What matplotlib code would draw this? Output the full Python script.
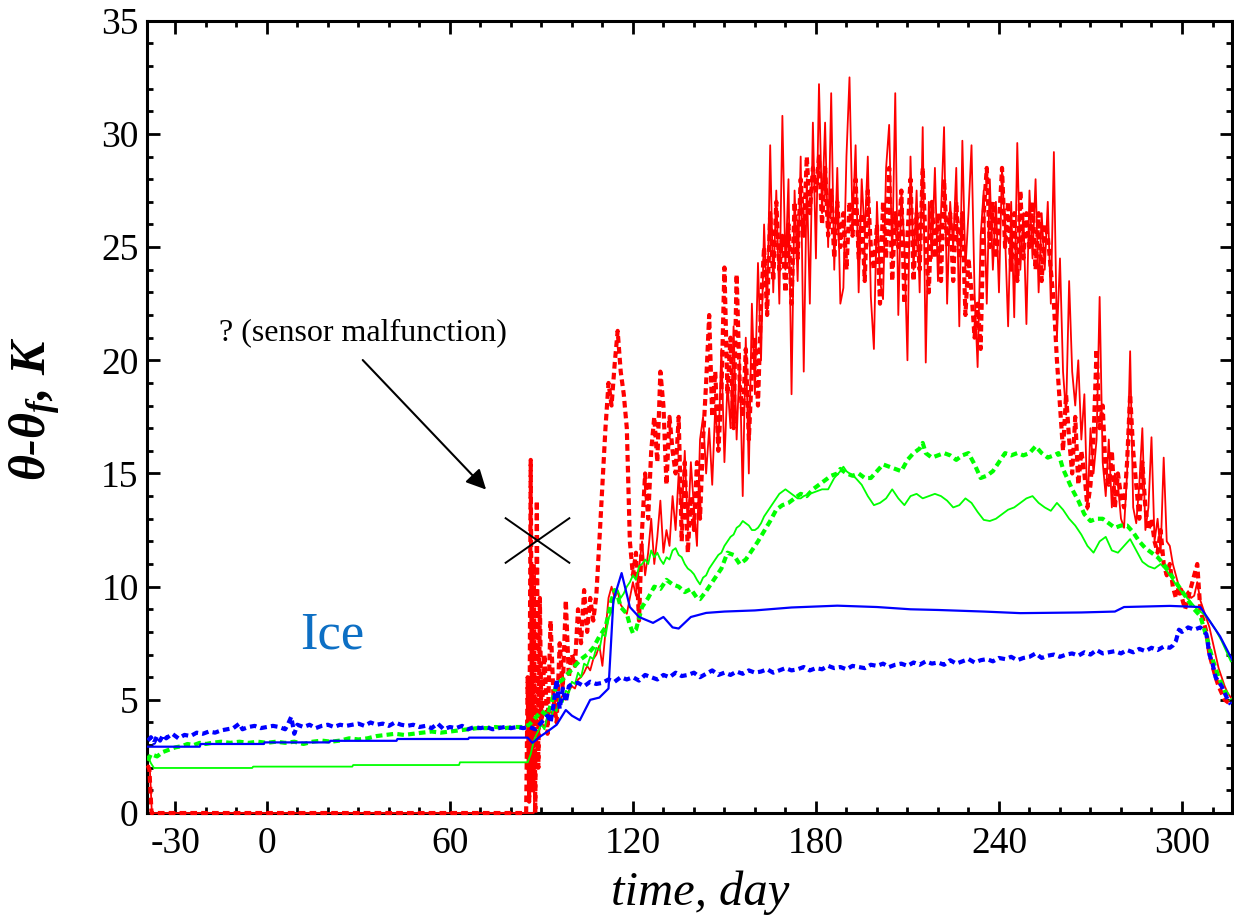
import numpy as np
import matplotlib
matplotlib.use('Agg')
import matplotlib.pyplot as plt
from matplotlib.path import Path
from matplotlib.ticker import MultipleLocator, FixedLocator

plt.rcParams['font.family'] = ['Liberation Serif', 'DejaVu Serif']
plt.rcParams['axes.unicode_minus'] = False
plt.rcParams['mathtext.fontset'] = 'custom'
plt.rcParams['mathtext.rm'] = 'Liberation Serif:bold:italic'
plt.rcParams['mathtext.it'] = 'Liberation Serif:bold:italic'
plt.rcParams['mathtext.bf'] = 'Liberation Serif:bold:italic'

# ---- data (time in days, theta - theta_f in K) ----
# red solid: short lead-in, then daily values from day 88
red_solid_lead = [(-39, 2.1), (-38.3, 1.8), (-37.7, 0.0), (87.5, 0.0)]
red_solid_start = 88
red_solid = [
    2.5, 3.5,
    4.0, 3.8, 4.2, 4.5, 4.3, 4.8, 5.0, 5.2, 5.0, 5.4,            # 90
    5.6, 5.5, 5.9, 6.0, 6.2, 6.5, 6.3, 6.8, 7.0, 7.4,            # 100
    6.5, 8.0, 9.5, 10.0, 9.5, 9.8, 9.2, 9.0, 8.8, 9.5,           # 110
    10.2, 9.6, 10.8, 12.0, 10.5, 11.5, 13.0, 11.0, 12.2, 13.8,   # 120
    11.5, 12.5, 11.8, 14.0, 12.5, 15.0, 13.0, 16.0, 12.5, 15.5,  # 130
    13.5, 11.8, 16.5, 17.5, 15.0, 17.0, 14.5, 18.0, 16.0, 20.5,  # 140
    15.5, 19.0, 17.0, 21.5, 16.5, 20.0, 14.0, 21.0, 15.0, 22.5,  # 150
    18.5, 24.3, 20.0, 26.0, 22.0, 29.5, 23.0, 27.5, 22.5, 30.8,  # 160
    24.0, 28.0, 18.5, 27.5, 23.5, 29.0, 19.5, 28.0, 22.5, 30.5,  # 170
    24.5, 32.2, 26.5, 30.5, 25.0, 31.8, 24.0, 28.5, 22.5, 23.2,  # 180
    29.0, 32.5, 26.0, 29.5, 23.0, 28.0, 25.5, 29.0, 22.8, 20.5,  # 190
    27.0, 23.5, 22.7, 28.5, 30.4, 24.5, 31.8, 22.0, 27.5, 25.0,  # 200
    20.0, 29.0, 24.0, 27.5, 23.0, 30.3, 19.9, 27.0, 24.5, 28.5,  # 210
    23.5, 26.5, 30.3, 22.5, 27.0, 25.0, 28.5, 21.5, 29.7, 24.0,  # 220
    26.5, 29.5, 23.0, 19.7, 25.5, 27.5, 22.5, 28.0, 24.0, 27.0,  # 230
    23.0, 28.5, 25.5, 21.5, 27.0, 21.9, 29.6, 24.0, 26.5, 21.6,  # 240
    27.5, 24.5, 28.0, 23.0, 26.5, 24.0, 27.0, 22.5, 29.2, 21.0,  # 250
    24.5, 19.5, 17.6, 23.5, 19.5, 18.0, 20.0, 16.5, 18.5, 13.4,  # 260
    17.0, 15.0, 16.5, 22.8, 15.5, 14.0, 16.5, 13.5, 15.0, 14.5,  # 270
    13.0, 12.6, 15.0, 20.4, 13.5, 12.8, 14.5, 17.0, 12.5, 13.5,  # 280
    16.6, 12.0, 13.0, 11.5, 15.7, 12.0, 11.8, 11.0, 10.5, 10.0,  # 290
    9.9, 9.6, 9.8, 9.5, 9.6, 10.2, 9.4, 9.0, 8.6, 8.2,           # 300
    7.6, 7.0, 6.4, 6.0, 5.6, 5.3, 5.1,                           # 310
]

# red dotted: lead-in incl. the malfunction spike, then daily values from day 90
red_dotted_lead = [(-39, 2.1), (-38.5, 1.9), (-37.8, 0.0), (85, 0.0), (85.5, 6.0),
                   (86, 0.5), (86.5, 15.6), (87, 1.0), (87.5, 11.0), (88, 0.0),
                   (88.5, 13.8), (89, 2.0), (89.5, 9.5)]
red_dotted_start = 90
red_dotted = [
    4.0, 7.0, 3.5, 8.5, 5.0, 4.0, 7.5, 5.5, 9.4, 6.0,            # 90
    7.0, 6.5, 9.0, 7.5, 9.85, 8.0, 9.5, 8.5, 9.6, 12.0,          # 100
    14.5, 17.0, 19.0, 18.0, 19.8, 21.3, 19.5, 18.5, 17.0, 12.0,  # 110
    10.5, 11.5, 8.5, 12.5, 15.0, 13.0, 16.0, 17.5, 15.5, 19.5,   # 120
    18.0, 14.5, 17.5, 16.0, 15.0, 17.5, 12.0, 15.5, 11.5, 14.0,  # 130
    12.5, 15.5, 13.0, 16.5, 19.0, 22.0, 17.5, 19.5, 16.0, 18.5,  # 140
    24.1, 18.5, 21.0, 17.0, 23.8, 19.0, 17.5, 20.5, 16.5, 19.5,  # 150
    21.0, 18.0, 22.5, 25.0, 22.0, 26.5, 23.5, 27.0, 24.0, 25.5,  # 160
    23.0, 26.0, 22.5, 27.0, 24.5, 28.0, 25.5, 29.0, 26.5, 28.5,  # 170
    27.5, 29.0, 26.0, 28.5, 25.5, 27.5, 24.5, 27.0, 25.0, 26.5,  # 180
    24.0, 27.0, 25.5, 28.0, 24.5, 26.5, 23.5, 27.5, 25.0, 24.0,  # 190
    26.0, 22.5, 27.0, 24.5, 28.5, 23.5, 26.5, 25.0, 27.5, 22.5,  # 200
    25.5, 28.0, 23.5, 26.5, 24.0, 28.5, 25.0, 23.0, 27.0, 24.5,  # 210
    26.5, 23.5, 28.0, 25.0, 26.5, 23.5, 27.0, 24.5, 26.5, 22.0,  # 220
    24.5, 23.0, 21.0, 22.5, 20.5, 26.5, 28.5, 25.0, 27.0, 24.5,  # 230
    26.0, 28.5, 25.0, 27.0, 24.0, 26.5, 23.5, 27.5, 24.5, 26.5,  # 240
    25.0, 27.0, 24.0, 26.5, 23.5, 26.0, 25.5, 24.0, 22.5, 20.0,  # 250
    18.0, 16.0, 18.5, 16.5, 15.0, 17.5, 14.5, 16.0, 15.0, 13.5,  # 260
    14.5, 16.5, 20.5, 17.0, 18.0, 15.0, 14.5, 16.0, 13.5, 15.0,  # 270
    14.0, 13.5, 15.5, 18.5, 16.0, 14.5, 13.0, 15.5, 13.5, 12.5,  # 280
    13.0, 12.0, 11.5, 12.5, 11.0, 10.5, 11.0, 10.0, 9.5, 10.0,   # 290
    9.5, 9.0, 9.5, 10.0, 10.5, 11.0, 9.0, 8.5, 8.0, 7.0,         # 300
    6.5, 6.0, 5.6, 5.3, 5.0, 4.9, 4.8,                           # 310
]

green_thin = [
    (-39, 2.5), (-38, 2.2), (-37, 1.99), (-4.8, 1.99), (-4.5, 2.05), (28, 2.05),
    (28.3, 2.12), (63, 2.12), (63.3, 2.24), (85.5, 2.24), (86.5, 2.6), (87.5, 3.2),
    (88.5, 3.5), (90, 3.9), (91, 3.7), (92, 4.3), (93, 4.1), (94, 4.6), (95, 4.5),
    (96, 5.1), (97, 4.9), (98, 5.4), (99, 5.3), (100, 5.8), (101, 5.7), (102, 6.2),
    (103, 6.0), (104, 6.6), (105, 6.5), (106, 6.9), (107, 6.8), (108, 7.3), (109, 7.2),
    (110, 7.9), (111, 7.8), (112, 8.6), (113, 8.9), (114, 9.5), (115, 9.85), (116, 9.5),
    (117, 9.7), (118, 10.0), (119, 10.2), (120, 10.5), (121, 10.3), (122, 10.9),
    (123, 11.0), (124, 11.2), (125, 11.0), (126, 11.6), (127, 11.3), (128, 11.5),
    (129, 11.2), (130, 11.0), (131, 11.3), (132, 11.2), (133, 11.6), (134, 11.7),
    (135, 11.4), (136, 11.3), (137, 11.0), (138, 10.8), (139, 10.7), (140, 10.55),
    (141, 10.3), (142, 10.1), (143, 10.4), (144, 10.5), (145, 10.8), (146, 11.0),
    (147, 11.2), (148, 11.4), (149, 11.5), (150, 11.8), (151, 12.0), (152, 12.2),
    (153, 12.3), (154, 12.6), (155, 12.7), (156, 12.9), (157, 12.8), (158, 12.7),
    (159, 12.5), (160, 12.5), (161, 12.6), (162, 12.8), (163, 13.1), (164, 13.3),
    (165, 13.5), (166, 13.7), (167, 13.9), (168, 14.1), (169, 14.2), (170, 14.3),
    (171, 14.2), (172, 14.1), (173, 14.0), (174, 13.9), (175, 13.9), (176, 14.0),
    (178, 14.1), (180, 14.2), (182, 14.3), (184, 14.3), (186, 14.8), (188, 15.1),
    (189, 15.3), (190, 15.1), (191, 15.0), (193, 14.8), (195, 14.5), (197, 14.0),
    (199, 13.6), (201, 13.7), (203, 13.9), (205, 14.3), (207, 13.9), (209, 13.6),
    (211, 14.0), (213, 14.1), (215, 13.9), (217, 14.0), (219, 14.1), (221, 14.0),
    (223, 13.8), (225, 13.5), (227, 13.6), (229, 13.9), (231, 13.7), (233, 13.3),
    (235, 12.95), (237, 12.9), (239, 13.0), (241, 13.2), (243, 13.4), (245, 13.5),
    (247, 13.7), (249, 13.9), (251, 14.0), (253, 13.7), (255, 13.5), (257, 13.35),
    (259, 13.7), (261, 13.4), (263, 13.0), (265, 12.7), (267, 12.3), (269, 11.8),
    (271, 11.5), (273, 12.0), (275, 12.2), (277, 11.6), (279, 11.5), (281, 11.8),
    (283, 12.1), (285, 11.6), (287, 11.1), (289, 10.9), (291, 10.8), (293, 11.0),
    (295, 10.7), (297, 10.3), (299, 9.9), (301, 9.6), (303, 9.3), (305, 9.0),
    (307, 8.8), (309, 8.5), (311, 8.1), (313, 7.6), (315, 7.0), (316, 6.7),
]

green_dotted = [
    (-39, 2.3), (-38, 2.6), (-36, 2.5), (-34, 2.7), (-32, 2.8), (-30, 2.9), (-28, 2.95),
    (-26, 3.05), (-24, 3.0), (-22, 3.1), (-20, 3.05), (-18, 3.1), (-15, 3.15), (-12, 3.1),
    (-9, 3.15), (-6, 3.1), (-3, 3.15), (0, 3.1), (3, 3.15), (6, 3.1), (9, 3.15), (12, 3.05),
    (15, 3.15), (18, 3.2), (21, 3.15), (24, 3.2), (27, 3.3), (30, 3.25), (33, 3.3),
    (36, 3.4), (39, 3.45), (42, 3.5), (45, 3.45), (48, 3.5), (51, 3.55), (54, 3.6),
    (57, 3.55), (60, 3.6), (63, 3.65), (66, 3.7), (69, 3.75), (72, 3.75), (75, 3.8),
    (78, 3.75), (81, 3.8), (84, 3.8), (86, 3.9), (88, 4.2), (90, 4.5), (92, 4.3),
    (94, 5.2), (95, 5.7), (97, 5.9), (99, 6.2), (101, 6.5), (103, 6.8), (105, 7.0),
    (107, 7.3), (109, 7.8), (111, 8.2), (112, 8.8), (113, 9.4), (114, 9.85), (115, 9.6),
    (116, 9.1), (118, 8.8), (119, 8.3), (120, 7.95), (121, 8.1), (122, 8.6), (123, 9.1),
    (125, 9.5), (127, 10.0), (129, 9.9), (131, 10.3), (133, 10.1), (135, 10.0),
    (137, 9.76), (139, 9.9), (141, 9.5), (142, 9.45), (144, 9.8), (146, 10.2), (147, 10.4),
    (149, 10.8), (151, 11.5), (153, 11.4), (155, 11.0), (157, 11.2), (159, 11.6),
    (161, 12.0), (163, 12.45), (165, 12.9), (167, 13.4), (169, 13.6), (171, 13.7),
    (173, 13.9), (175, 14.1), (177, 14.0), (179, 14.3), (181, 14.5), (183, 14.7),
    (185, 14.9), (187, 15.0), (188, 15.2), (190, 15.0), (192, 14.9), (194, 15.0),
    (196, 14.8), (198, 14.8), (200, 15.1), (202, 15.4), (204, 15.3), (206, 15.2),
    (208, 15.1), (210, 15.6), (212, 15.9), (214, 16.1), (215, 16.35), (216, 15.9),
    (218, 15.7), (220, 15.8), (222, 15.9), (224, 15.8), (226, 15.6), (228, 15.8),
    (230, 15.9), (232, 15.4), (234, 14.8), (236, 14.9), (238, 15.1), (240, 15.5),
    (242, 15.9), (244, 15.8), (246, 15.9), (248, 15.8), (250, 15.9), (252, 16.2),
    (254, 15.9), (256, 15.7), (258, 15.8), (259.5, 15.9), (261, 15.2), (262, 14.9),
    (264, 14.3), (266, 13.8), (268, 13.2), (270, 12.9), (272, 13.0), (274, 13.0),
    (276, 12.8), (278, 12.6), (280, 12.7), (282, 12.7), (284, 12.4), (286, 12.0),
    (288, 11.7), (290, 11.5), (292, 11.3), (294, 11.0), (296, 10.6), (298, 10.2),
    (300, 9.8), (302, 9.4), (304, 9.0), (306, 8.7), (308, 7.8), (310, 6.8), (312, 6.0),
    (314, 5.4), (316, 5.0),
]

blue_thin = [
    (-39, 2.93), (-22, 2.93), (-21.7, 3.05), (-1, 3.05), (-0.7, 3.12), (20.5, 3.12),
    (20.8, 3.19), (42.5, 3.19), (42.8, 3.27), (66, 3.27), (66.3, 3.33), (85.5, 3.33),
    (87, 3.1), (88, 3.2), (89.5, 3.37), (92, 3.6), (95, 3.9), (98, 4.55), (100, 4.3),
    (102.6, 4.1), (106, 5.0), (109, 5.1), (112, 5.5), (113.6, 9.4), (116.3, 10.6),
    (119, 9.1), (122, 8.66), (126.6, 8.4), (130, 8.66), (133, 8.2), (135, 8.15),
    (139, 8.66), (144, 8.84), (150, 8.9), (160, 8.95), (172, 9.08), (187, 9.16),
    (200, 9.1), (211, 9.0), (220, 8.97), (235, 8.9), (247, 8.83), (267, 8.86),
    (278, 8.9), (281, 9.1), (296, 9.15), (306, 9.1), (309, 8.5), (312.5, 7.8),
    (316.5, 6.76),
]

blue_dotted = [
    (-39, 3.2), (-38, 3.35), (-37, 3.1), (-36, 3.4), (-35, 3.2), (-34, 3.45), (-33, 3.3),
    (-31, 3.5), (-29, 3.3), (-27, 3.45), (-25, 3.4), (-23, 3.55), (-21, 3.5), (-19, 3.6),
    (-17, 3.55), (-15, 3.65), (-13, 3.7), (-11, 3.75), (-9, 3.95), (-8, 3.7), (-6, 3.8),
    (-4, 3.85), (-2, 3.75), (0, 3.8), (2, 3.85), (4, 3.8), (6, 3.7), (7, 3.95), (8, 4.25),
    (9, 3.5), (10, 3.9), (12, 3.8), (14, 3.9), (16, 3.75), (18, 3.85), (20, 3.9),
    (22, 3.8), (24, 3.9), (26, 3.85), (28, 3.9), (30, 3.95), (32, 3.85), (34, 4.0),
    (36, 3.9), (38, 3.95), (40, 3.85), (42, 4.0), (44, 3.9), (46, 3.85), (48, 3.9),
    (50, 3.8), (52, 3.85), (54, 3.75), (56, 3.95), (58, 3.7), (60, 3.8), (62, 3.75),
    (64, 3.85), (66, 3.7), (68, 3.8), (70, 3.75), (72, 3.8), (74, 3.7), (76, 3.75),
    (78, 3.8), (80, 3.75), (82, 3.8), (84, 3.75), (86, 3.8), (88, 3.7), (90, 4.0),
    (92, 4.3), (93, 4.0), (94, 4.8), (95, 5.9), (96, 4.6), (97, 5.5), (98, 4.9),
    (99, 5.6), (100, 5.7), (102, 5.75), (104, 5.6), (106, 5.8), (108, 5.7), (110, 5.75),
    (112, 5.9), (114, 5.8), (116, 6.0), (118, 5.9), (120, 6.0), (122, 5.85), (124, 6.1),
    (126, 6.0), (128, 5.9), (130, 6.1), (132, 6.0), (134, 6.2), (136, 6.05), (138, 6.1),
    (140, 6.2), (142, 6.0), (144, 6.15), (146, 6.3), (148, 6.1), (150, 6.2), (152, 6.1),
    (154, 6.25), (156, 6.15), (158, 6.3), (160, 6.2), (162, 6.25), (164, 6.35), (166, 6.2),
    (168, 6.3), (170, 6.4), (172, 6.3), (174, 6.35), (176, 6.45), (178, 6.3), (180, 6.4),
    (182, 6.35), (184, 6.5), (186, 6.4), (188, 6.45), (190, 6.35), (192, 6.5), (194, 6.45),
    (196, 6.4), (198, 6.55), (200, 6.5), (202, 6.6), (204, 6.45), (206, 6.55), (208, 6.6),
    (210, 6.5), (212, 6.65), (214, 6.55), (216, 6.7), (218, 6.6), (220, 6.65), (222, 6.55),
    (224, 6.75), (226, 6.6), (228, 6.7), (230, 6.8), (232, 6.65), (234, 6.75), (236, 6.8),
    (238, 6.7), (240, 6.85), (242, 6.8), (244, 6.9), (246, 6.75), (248, 6.85), (250, 6.9),
    (252, 7.05), (254, 6.85), (256, 6.95), (258, 7.0), (260, 6.9), (262, 7.0), (264, 7.05),
    (266, 6.95), (268, 7.1), (270, 7.0), (272, 7.2), (274, 7.05), (276, 7.1), (278, 7.15),
    (280, 7.05), (282, 7.2), (284, 7.1), (286, 7.25), (288, 7.15), (290, 7.3), (292, 7.2),
    (294, 7.35), (296, 7.3), (297, 7.4), (298, 7.6), (299, 8.1), (300, 8.0), (302, 8.2),
    (304, 8.1), (306, 8.2), (308, 7.9), (309, 7.0), (310, 6.6), (311, 6.0), (312, 5.8),
    (313, 5.6), (314, 5.3), (315, 5.0), (316, 4.8),
]

x_major = [-30, 0, 60, 120, 180, 240, 300]
note_text = '? (sensor malfunction)'
note_pos = (31.5, 21.2)
arrow_from = (30.8, 20.1)
arrow_to = (72.5, 14.2)
cross_pos = (88.5, 12.06)
ice_pos = (21.6, 7.86)


def split(pairs):
    """Turn a list of (t, value) pairs into two arrays"""
    arr = np.array(pairs, dtype=float)
    return arr[:, 0], arr[:, 1]


def join_daily(lead, start, values):
    """Lead-in pairs followed by daily values"""
    t0, v0 = split(lead)
    t1 = np.arange(start, start + len(values))
    return np.concatenate([t0, t1]), np.concatenate([v0, values])


fig = plt.figure(figsize=(12.34, 9.22), dpi=100)
ax = fig.add_axes([0.1191, 0.1182, 0.8793, 0.8593])

thin = 1.3
thick = 3.0
dots = (0, (1.6, 1.0))

# Red
t, v = join_daily(red_solid_lead, red_solid_start, red_solid)
ax.plot(t, v, color='#ff0000', lw=thin, zorder=3, clip_on=False)
t, v = join_daily(red_dotted_lead, red_dotted_start, red_dotted)
ax.plot(t, v, color='#ff0000', lw=thick, ls=dots, zorder=3, clip_on=False)
# Green
t, v = split(green_thin)
ax.plot(t, v, color='#00ff00', lw=thin, zorder=3)
t, v = split(green_dotted)
ax.plot(t, v, color='#00ff00', lw=thick, ls=dots, zorder=3)
# Blue
t, v = split(blue_thin)
ax.plot(t, v, color='#0000ff', lw=thin + 0.3, zorder=3)
t, v = split(blue_dotted)
ax.plot(t, v, color='#0000ff', lw=thick, ls=dots, zorder=3)

# annotation for the bad sensor
ax.text(note_pos[0], note_pos[1], note_text, fontsize=23, ha='center', va='center')
ax.annotate('', xy=arrow_to, xytext=arrow_from,
            arrowprops=dict(arrowstyle='-|>', color='k', lw=1.5, mutation_scale=30))
cross = Path([(-1, -0.7), (1, 0.7), (-1, 0.7), (1, -0.7)],
             [Path.MOVETO, Path.LINETO, Path.MOVETO, Path.LINETO])
ax.plot([cross_pos[0]], [cross_pos[1]], marker=cross, ms=47, mec='k', mew=1.4,
        ls='none', zorder=4)
ax.text(ice_pos[0], ice_pos[1], 'Ice', color='#0d6fc4', fontsize=38,
        ha='center', va='center')

# Axes
ax.set_xlim(-39.3, 316.4)
ax.set_ylim(0, 35)
ax.xaxis.set_major_locator(FixedLocator(x_major))
ax.xaxis.set_minor_locator(MultipleLocator(10))
ax.yaxis.set_major_locator(MultipleLocator(5))
ax.yaxis.set_minor_locator(MultipleLocator(1))
ax.tick_params(which='both', direction='in', top=True, right=True, width=2,
               labelsize=27)
ax.tick_params(which='major', length=9)
ax.tick_params(which='minor', length=4.5)
ax.tick_params(axis='x', pad=10)
ax.tick_params(axis='y', pad=6)
for s in ax.spines.values():
    s.set_linewidth(2.2)

ax.set_xlabel('time, day', fontsize=35, style='italic')
ax.xaxis.set_label_coords(0.51, -0.072)
ax.set_ylabel(r'$\theta$-$\theta_{f}$, K', fontsize=36, style='italic',
              fontweight='bold', va='center')
ax.yaxis.set_label_coords(-0.103, 0.51)

fig.savefig('out.png', dpi=100)
